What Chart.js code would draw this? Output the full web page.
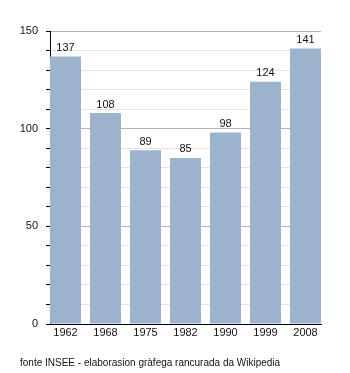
<!DOCTYPE html>
<html>
<head>
<meta charset="utf-8">
<script src="https://cdn.jsdelivr.net/npm/chart.js@4/dist/chart.umd.min.js"></script>
<style>
  html, body { margin: 0; padding: 0; background: #fff; }
  #wrap { position: relative; width: 350px; height: 373px; }
  #note {
    position: absolute; left: 20px; top: 357px;
    font: 10px "Liberation Sans", Arial, sans-serif; color: #111;
    white-space: nowrap;
  }
</style>
</head>
<body>
<div id="wrap">
  <canvas id="c" width="350" height="373"></canvas>
  <div id="note">fonte INSEE - elaborasion gràfega rancurada da Wikipedia</div>
</div>
<script>
// Population census years and inhabitants
const years = ['1962', '1968', '1975', '1982', '1990', '1999', '2008'];
const population = [137, 108, 89, 85, 98, 124, 141];
const yTicks = [0, 50, 100, 150];

const FONT = '"Liberation Sans", Arial, sans-serif';
const HALF = 0.3875; // half bar width, in category units

// Value labels drawn above each bar
const valueLabels = {
  id: 'valueLabels',
  afterDatasetsDraw(chart) {
    const ctx = chart.ctx;
    const meta = chart.getDatasetMeta(0);
    ctx.save();
    ctx.font = '11px ' + FONT;
    ctx.fillStyle = '#111';
    ctx.textAlign = 'center';
    ctx.textBaseline = 'bottom';
    meta.data.forEach((bar, i) => {
      ctx.fillText(String(population[i]), bar.x, bar.y - 3);
    });
    ctx.restore();
  }
};

new Chart(document.getElementById('c'), {
  type: 'bar',
  data: {
    datasets: [{
      data: population.map((v, i) => ({ x: i, y: v })),
      backgroundColor: '#9bb3cc',
      borderWidth: 0,
      barPercentage: 0.775,
      categoryPercentage: 1
    }]
  },
  options: {
    responsive: false,
    animation: false,
    events: [],
    layout: { padding: { top: 31, right: 29, bottom: 33, left: 0 } },
    plugins: { legend: { display: false }, tooltip: { enabled: false } },
    scales: {
      x: {
        type: 'linear',
        offset: false,
        min: -HALF,
        max: years.length - 1 + HALF,
        afterBuildTicks: (scale) => { scale.ticks = years.map((_, i) => ({ value: i })); },
        afterFit: (scale) => { scale.height = 16; },
        grid: { display: false, drawTicks: false, offset: false },
        border: { display: true, color: '#000', width: 1 },
        ticks: {
          padding: 2,
          autoSkip: false,
          maxRotation: 0,
          color: '#111',
          font: { family: FONT, size: 11 },
          callback: (v) => years[v]
        }
      },
      y: {
        min: 0,
        max: 150,
        afterBuildTicks: (scale) => {
          const t = [];
          for (let v = 0; v <= 150; v += 10) t.push({ value: v });
          scale.ticks = t;
        },
        afterFit: (scale) => { scale.width = 50; },
        border: { display: true, color: '#000', width: 1 },
        grid: {
          color: (c) => (c.tick && c.tick.value % 50 === 0) ? '#b4b4b4' : '#e4e4e4',
          tickColor: '#000',
          tickLength: 4,
          lineWidth: 1
        },
        ticks: {
          padding: 8,
          color: '#111',
          font: { family: FONT, size: 11 },
          callback: (v) => yTicks.includes(v) ? String(v) : ''
        }
      }
    }
  },
  plugins: [valueLabels]
});
</script>
</body>
</html>
